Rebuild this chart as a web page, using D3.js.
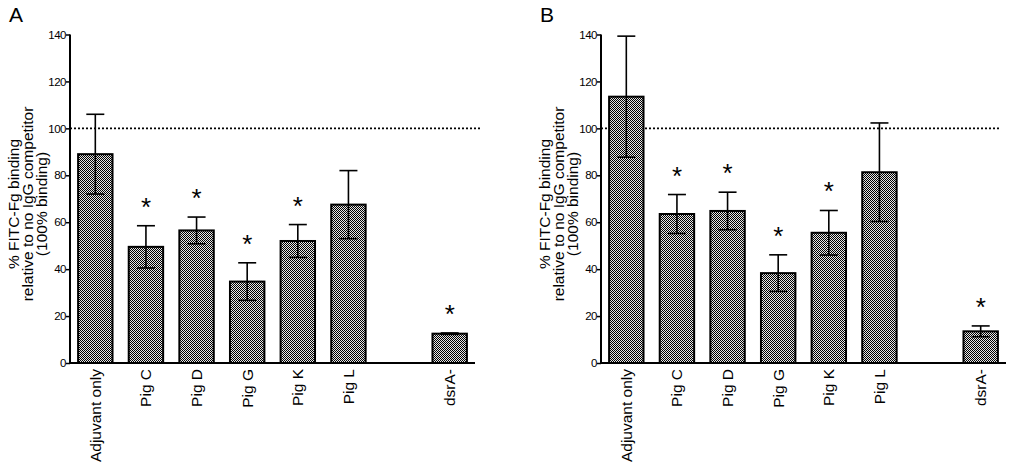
<!DOCTYPE html>
<html><head><meta charset="utf-8">
<script src="https://cdn.jsdelivr.net/npm/d3@7"></script>
<style>body{margin:0;background:#fff}svg{display:block}text{font-family:"Liberation Sans",Arial,sans-serif}</style>
</head><body>
<svg id="c" width="1010" height="472"></svg>
<script>
const categories = ["Adjuvant only","Pig C","Pig D","Pig G","Pig K","Pig L","","dsrA-"];
const valuesA = [89, 49.5, 56.5, 34.7, 52, 67.5, null, 12.5];
const errorsA = [17, 9, 5.7, 8, 7, 14.5, null, 0.3];
const sigA = [false, true, true, true, true, false, false, true];
const valuesB = [113.5, 63.5, 64.8, 38.3, 55.5, 81.3, null, 13.5];
const errorsB = [25.8, 8.3, 8, 7.8, 9.5, 21, null, 2.3];
const sigB = [false, true, true, true, true, false, false, true];
const yTicks = [0,20,40,60,80,100,120,140];
const refLine = 100;
const yLabel = ["% FITC-Fg binding","relative to no IgG competitor","(100% binding)"];

const svg = d3.select("#c");
const defs = svg.append("defs");
const pat = defs.append("pattern").attr("id","dots").attr("width",2).attr("height",2).attr("patternUnits","userSpaceOnUse");
pat.append("rect").attr("width",2).attr("height",2).attr("fill","#e6e6e6");
pat.append("rect").attr("x",0).attr("y",0).attr("width",1).attr("height",1).attr("fill","#000");
pat.append("rect").attr("x",1).attr("y",1).attr("width",1).attr("height",1).attr("fill","#000");

function panel(letter, ox, values, errors, sig, lineEnd){
  const g = svg.append("g");
  const x = d3.scaleBand().domain(categories.map((c,i)=>i)).range([ox, ox+405]).paddingInner(0.32).paddingOuter(0.16);
  const y = d3.scaleLinear().domain([0,140]).range([363,34.5]);
  g.append("text").attr("x",ox-61).attr("y",22).attr("font-size",21).text(letter);
  // ref line
  g.append("line").attr("x1",ox).attr("x2",lineEnd).attr("y1",y(refLine)).attr("y2",y(refLine))
    .attr("stroke","#000").attr("stroke-width",1.6).attr("stroke-dasharray","2,2");
  // bars
  const data = values.map((v,i)=>({v,e:errors[i],s:sig[i],i})).filter(d=>d.v!==null);
  g.selectAll("rect.bar").data(data).join("rect").attr("class","bar")
    .attr("x",d=>x(d.i)).attr("width",x.bandwidth()).attr("y",d=>y(d.v)).attr("height",d=>y(0)-y(d.v))
    .attr("fill","url(#dots)").attr("stroke","#000").attr("stroke-width",2);
  // error bars
  const cw = 9;
  data.forEach(d=>{
    const cx = x(d.i)+x.bandwidth()/2;
    const t = y(d.v+d.e), b = y(d.v-d.e);
    g.append("line").attr("x1",cx).attr("x2",cx).attr("y1",t).attr("y2",b).attr("stroke","#000").attr("stroke-width",1.6);
    g.append("line").attr("x1",cx-cw).attr("x2",cx+cw).attr("y1",t).attr("y2",t).attr("stroke","#000").attr("stroke-width",1.6);
    g.append("line").attr("x1",cx-cw).attr("x2",cx+cw).attr("y1",b).attr("y2",b).attr("stroke","#000").attr("stroke-width",1.6);
    if(d.s){
      g.append("text").attr("x",cx).attr("y",t-10).attr("text-anchor","middle").attr("font-size",26).text("*");
    }
  });
  // y axis
  const ya = g.append("g").attr("transform",`translate(${ox},0)`)
    .call(d3.axisLeft(y).tickValues(yTicks).tickSize(4).tickPadding(0));
  ya.select(".domain").attr("stroke-width",2).attr("d",`M0,${y(0)}V${y(140)}`);
  ya.selectAll(".tick line").attr("stroke-width",1.5);
  ya.selectAll(".tick text").attr("font-size",11.5).attr("letter-spacing",-0.5).attr("fill","#000");
  // x axis
  const xa = g.append("g").attr("transform",`translate(0,${y(0)})`)
    .call(d3.axisBottom(x).tickSize(0).tickFormat(i=>categories[i]));
  xa.select(".domain").attr("stroke-width",2).attr("d",`M${ox},0H${ox+405}`);
  xa.selectAll(".tick text").attr("font-size",15.5).attr("fill","#000")
    .attr("transform","rotate(-90)").attr("text-anchor","end").attr("x",-6).attr("y",0).attr("dy","0.35em");
  // y label
  const lab = g.append("text").attr("transform",`translate(${ox-42},204) rotate(-90)`).attr("text-anchor","middle").attr("font-size",15.5);
  yLabel.forEach((l,k)=>lab.append("tspan").attr("x",0).attr("y",(k-1)*14+5.4).text(l));
}
panel("A", 70, valuesA, errorsA, sigA, 482);
panel("B", 601, valuesB, errorsB, sigB, 1000);
</script>
</body></html>
